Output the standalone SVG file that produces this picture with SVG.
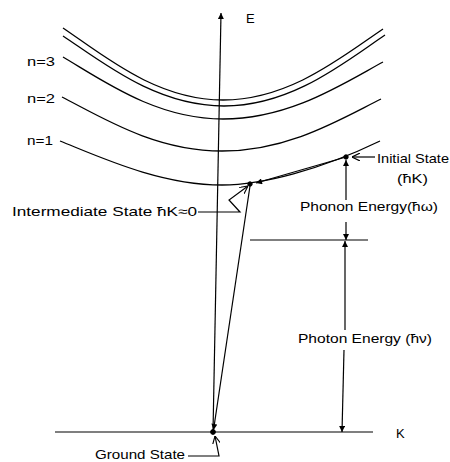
<svg xmlns="http://www.w3.org/2000/svg" width="450" height="462" viewBox="0 0 450 462">
<style>
  .ln{fill:none;stroke:#000;stroke-width:1.2}
  .band{fill:none;stroke:#000;stroke-width:1.3}
  .t{font-family:"Liberation Sans","DejaVu Sans",Arial,sans-serif;font-size:13px;fill:#000}
  .dot{fill:#000;stroke:#000;stroke-width:1}
</style>
<defs>
  <marker id="fa" viewBox="0 0 10 10" refX="10" refY="5" markerWidth="9" markerHeight="6" markerUnits="userSpaceOnUse" orient="auto">
    <path d="M0,0 L10,5 L0,10 z" fill="#000"/>
  </marker>
  <marker id="oa" viewBox="0 0 10 10" refX="10" refY="5" markerWidth="8" markerHeight="8" markerUnits="userSpaceOnUse" orient="auto">
    <path d="M0,0 L10,5 L0,10" fill="none" stroke="#000" stroke-width="1.4"/>
  </marker>
</defs>
<rect width="450" height="462" fill="#fff"/>

<g id="bands">
  <path class="band" d="M63,28 C103,55 156,100 223,100 C290,100 343,56 383,29"/>
  <path class="band" d="M63,36 C103,62.6 156,106 224,106 C292,106 345,62 385,35"/>
  <path class="band" d="M63,57 C103,80.6 156,119 223,119 C290,119 343,83.7 383,62"/>
  <path class="band" d="M62,97 C102,117.5 155,151 222,151 C289,151 341,118.8 381,99"/>
  <path class="band" d="M60,141 C100,157 160,185 222,185 C262,185 320,170 380,141"/>
</g>

<g id="band-labels">
  <text class="t" x="27" y="66" textLength="28" lengthAdjust="spacingAndGlyphs">n=3</text>
  <text class="t" x="27" y="103" textLength="28" lengthAdjust="spacingAndGlyphs">n=2</text>
  <text class="t" x="27" y="145" textLength="26" lengthAdjust="spacingAndGlyphs">n=1</text>
</g>

<g id="axes">
  <line class="ln" x1="55" y1="432" x2="373" y2="432"/>
  <line class="ln" x1="213" y1="432" x2="221" y2="13" marker-end="url(#fa)"/>
  <text class="t" x="246" y="23">E</text>
  <text class="t" x="396" y="438">K</text>
</g>

<g id="connectors">
  <line class="ln" x1="346" y1="157" x2="256" y2="183" marker-end="url(#fa)"/>
  <line class="ln" x1="250" y1="186" x2="213.5" y2="430" marker-end="url(#fa)"/>
  <line class="ln" x1="346" y1="200" x2="346" y2="160" marker-end="url(#fa)"/>
  <line class="ln" x1="346" y1="222" x2="346" y2="240" marker-end="url(#fa)"/>
  <line class="ln" x1="250" y1="240" x2="368" y2="240"/>
  <line class="ln" x1="345" y1="330" x2="345" y2="241" marker-end="url(#fa)"/>
  <line class="ln" x1="344" y1="350" x2="342" y2="432" marker-end="url(#fa)"/>
  <polyline class="ln" points="375,157 352,157" marker-end="url(#oa)"/>
  <polyline class="ln" points="198,212 240,212 229,200 248,186" marker-end="url(#oa)"/>
  <polyline class="ln" points="188,456 219,456 215,436" marker-end="url(#oa)"/>
</g>

<g id="initial-state">
  <circle class="dot" cx="346" cy="157" r="2.2"/>
  <text class="t" x="377" y="163" textLength="72" lengthAdjust="spacingAndGlyphs">Initial State</text>
  <text class="t" x="397" y="183" textLength="31" lengthAdjust="spacingAndGlyphs">(ħK)</text>
</g>

<g id="intermediate-state">
  <circle class="dot" cx="250" cy="184" r="2.2"/>
  <text class="t" x="12" y="216" textLength="185" lengthAdjust="spacingAndGlyphs">Intermediate State  ħK≈0</text>
</g>

<g id="ground-state">
  <circle class="dot" cx="213" cy="432" r="2.4"/>
  <text class="t" x="95" y="459" textLength="90" lengthAdjust="spacingAndGlyphs">Ground  State</text>
</g>

<g id="energy-labels">
  <text class="t" x="300" y="211" textLength="138" lengthAdjust="spacingAndGlyphs">Phonon  Energy(ħω)</text>
  <text class="t" x="298" y="343" textLength="134" lengthAdjust="spacingAndGlyphs">Photon  Energy (ħν)</text>
</g>
</svg>
